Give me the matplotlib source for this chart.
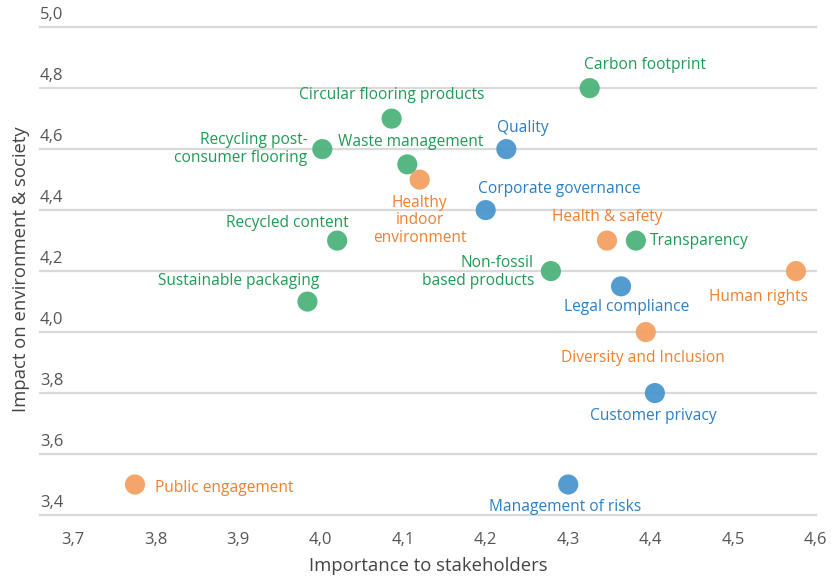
import matplotlib
matplotlib.use("Agg")
import matplotlib.pyplot as plt
from matplotlib.ticker import FuncFormatter

# data
topics = [
    "Carbon footprint", "Circular flooring products", "Recycling post-\nconsumer flooring",
    "Waste management", "Quality", "Healthy\nindoor\nenvironment", "Corporate governance",
    "Recycled content", "Health & safety", "Transparency", "Non-fossil\nbased products",
    "Human rights", "Legal compliance", "Sustainable packaging", "Diversity and Inclusion",
    "Customer privacy", "Management of risks", "Public engagement",
]
importance = [4.326, 4.086, 4.002, 4.105, 4.225, 4.12, 4.20, 4.02, 4.347, 4.382, 4.279,
              4.576, 4.364, 3.984, 4.394, 4.405, 4.30, 3.775]
impact = [4.80, 4.70, 4.60, 4.55, 4.60, 4.50, 4.40, 4.30, 4.30, 4.30, 4.20,
          4.20, 4.15, 4.10, 4.00, 3.80, 3.50, 3.50]
group = ["env", "env", "env", "env", "gov", "soc", "gov", "env", "soc", "env", "env",
         "soc", "gov", "env", "soc", "gov", "gov", "soc"]

x_ticks = [3.7, 3.8, 3.9, 4.0, 4.1, 4.2, 4.3, 4.4, 4.5, 4.6]
y_ticks = [3.4, 3.6, 3.8, 4.0, 4.2, 4.4, 4.6, 4.8, 5.0]

dot_colors = {"env": "#4db37c", "gov": "#4b97cd", "soc": "#f4a062"}
text_colors = {"env": "#1f9a55", "gov": "#2a7fc4", "soc": "#f07f2e"}

# label placement: (dx, dy in pixels, ha, va)
label_pos = {
    "Carbon footprint": (-6, 23, "left", "center"),
    "Circular flooring products": (0, 24, "center", "center"),
    "Recycling post-\nconsumer flooring": (-15, 0, "right", "center"),
    "Waste management": (3, 22, "center", "center"),
    "Quality": (-9, 21, "left", "center"),
    "Healthy\nindoor\nenvironment": (0, -15, "center", "top"),
    "Corporate governance": (-8, 21, "left", "center"),
    "Recycled content": (12, 18, "right", "center"),
    "Health & safety": (0, 24, "center", "center"),
    "Transparency": (14, 0, "left", "center"),
    "Non-fossil\nbased products": (-17, -1, "right", "center"),
    "Human rights": (12, -26, "right", "center"),
    "Legal compliance": (6, -21, "center", "center"),
    "Sustainable packaging": (12, 21, "right", "center"),
    "Diversity and Inclusion": (-3, -26, "center", "center"),
    "Customer privacy": (-2, -23, "center", "center"),
    "Management of risks": (-3, -22, "center", "center"),
    "Public engagement": (20, -3, "left", "center"),
}

plt.rcParams["font.family"] = ["Open Sans", "DejaVu Sans"]

fig = plt.figure(figsize=(8.35, 5.78), dpi=100)
ax = fig.add_axes([0.048, 0.109, 0.929, 0.844])

ax.set_xlim(3.66, 4.6)
ax.set_ylim(3.4, 5.0)

for yt in y_ticks:
    ax.axhline(yt, color="#d9d9d9", lw=1.6, zorder=1, clip_on=False)
    ax.annotate(f"{yt:.1f}".replace(".", ","), (0, yt), xycoords=("axes fraction", "data"),
                xytext=(0, 4), textcoords="offset pixels", ha="left", va="bottom",
                fontsize=12, color="#555555")

for name, x, y, g in zip(topics, importance, impact, group):
    ax.scatter(x, y, s=210, color=dot_colors[g], alpha=0.95, edgecolors="none", zorder=3)
    dx, dy, ha, va = label_pos[name]
    ax.annotate(name, (x, y), xytext=(dx, dy), textcoords="offset pixels", ha=ha, va=va,
                fontsize=11.2, color=text_colors[g], linespacing=1.15, zorder=4)

ax.set_xticks(x_ticks)
ax.xaxis.set_major_formatter(FuncFormatter(lambda v, p: f"{v:.1f}".replace(".", ",")))
ax.set_yticks([])
ax.tick_params(axis="x", length=0, pad=12, labelsize=12, labelcolor="#555555")
for s in ax.spines.values():
    s.set_visible(False)

ax.set_xlabel("Importance to stakeholders", fontsize=13.3, color="#444444", labelpad=7)
fig.text(0.025, 0.535, "Impact on environment & society", rotation=90, ha="center",
         va="center", fontsize=13.3, color="#444444")

fig.savefig("out.png", dpi=100)
